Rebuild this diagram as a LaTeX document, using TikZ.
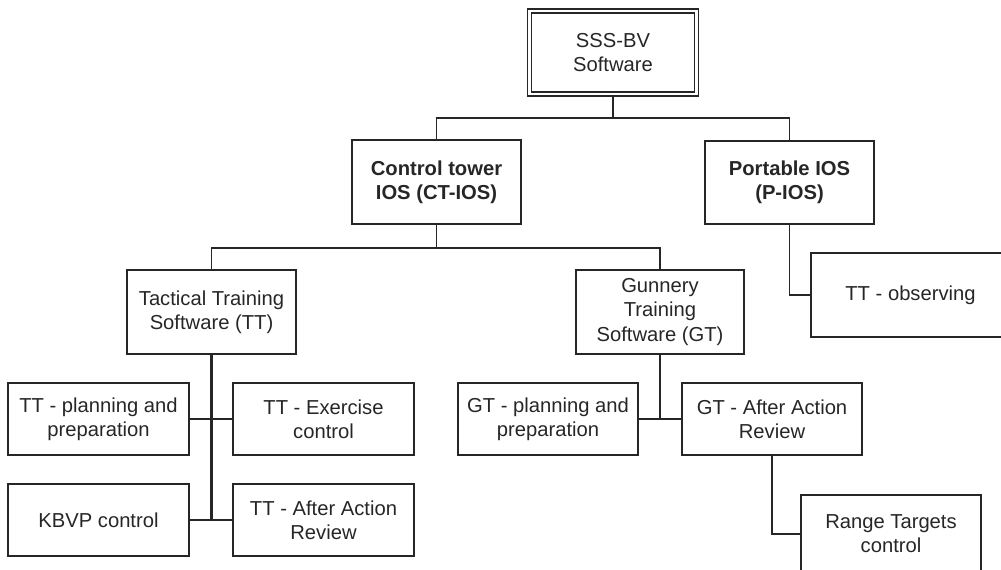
\documentclass[tikz,border=0pt]{standalone}
\usepackage{fontspec}
\setmainfont{Liberation Sans}
\usepackage{tikz}
\usetikzlibrary{positioning, calc}

\definecolor{inkgray}{HTML}{262626}

\begin{document}
\begin{tikzpicture}[
    x=0.02cm,
    y=-0.02cm,
    font=\fontsize{11.5}{13.8}\selectfont,
    box/.style={
        draw=inkgray,
        text=inkgray,
        rectangle,
        align=center,
        inner sep=0pt,
        line width=0.75pt
    },
    rootbox/.style={
        box,
        double=white,
        double distance=1.6pt,
        line width=0.7pt
    },
    wire/.style={
        line width=0.75pt,
        draw=inkgray
    },
    trunk/.style={
        line width=1.3pt,
        draw=inkgray
    }
]

\useasboundingbox (0,0) rectangle (1001,570);
\clip (0,0) rectangle (1001,570);

% ============================================================
% Top levels
% ============================================================

\node[rootbox, minimum width=3.35cm, minimum height=1.66cm] (sss) at (613,52.5) {SSS-BV\\Software};

\node[box, minimum width=3.38cm, minimum height=1.68cm] (ctios) at (436.5,182) {\textbf{Control tower}\\\textbf{IOS (CT-IOS)}};
\node[box, minimum width=3.38cm, minimum height=1.66cm] (pios)  at (789.5,182.5) {\textbf{Portable IOS}\\\textbf{(P-IOS)}};

\coordinate (bar1) at (613,118);
\draw[wire] (sss.south) -- (bar1);
\draw[wire] (ctios.north) |- (bar1) -| (pios.north);

% ============================================================
% Training software
% ============================================================

\node[box, minimum width=3.38cm, minimum height=1.68cm] (tt) at (211.5,312) {Tactical Training\\Software (TT)};
\node[box, minimum width=3.36cm, minimum height=1.68cm] (gt) at (660,312) {Gunnery\\Training\\Software (GT)};

\coordinate (bar2) at (436.5,248);
\draw[wire] (ctios.south) -- (bar2);
\draw[wire] (tt.north) |- (bar2) -| (gt.north);

\node[box, minimum width=3.98cm, minimum height=1.68cm] (ttobs) at (910.5,295) {TT - observing};
\draw[wire] (pios.south) |- (ttobs.west);

% ============================================================
% Tactical training modules
% ============================================================

\node[box, minimum width=3.62cm, minimum height=1.44cm] (ttplan) at (98.5,419)  {TT - planning and\\preparation};
\node[box, minimum width=3.62cm, minimum height=1.44cm] (ttexer) at (323.5,419) {TT - Exercise\\control};
\node[box, minimum width=3.62cm, minimum height=1.44cm] (kbvp)   at (98.5,520)  {KBVP control};
\node[box, minimum width=3.62cm, minimum height=1.44cm] (ttaar)  at (323.5,520) {TT - After Action\\Review};

\draw[trunk] (tt.south) -- (tt.south |- kbvp.east);
\draw[wire] (ttplan.east) -- (ttexer.west);
\draw[wire] (kbvp.east) -- (ttaar.west);

% ============================================================
% Gunnery training modules
% ============================================================

\node[box, minimum width=3.6cm, minimum height=1.44cm] (gtplan) at (548,419) {GT - planning and\\preparation};
\node[box, minimum width=3.6cm, minimum height=1.44cm] (gtaar)  at (772,419) {GT - After Action\\Review};
\node[box, minimum width=3.6cm, minimum height=1.56cm] (range)  at (891,534) {Range Targets\\control};

\draw[wire] (gt.south) -- (gt.south |- gtplan.east);
\draw[wire] (gtplan.east) -- (gtaar.west);
\draw[wire] (gtaar.south) |- (range.west);

\end{tikzpicture}
\end{document}
